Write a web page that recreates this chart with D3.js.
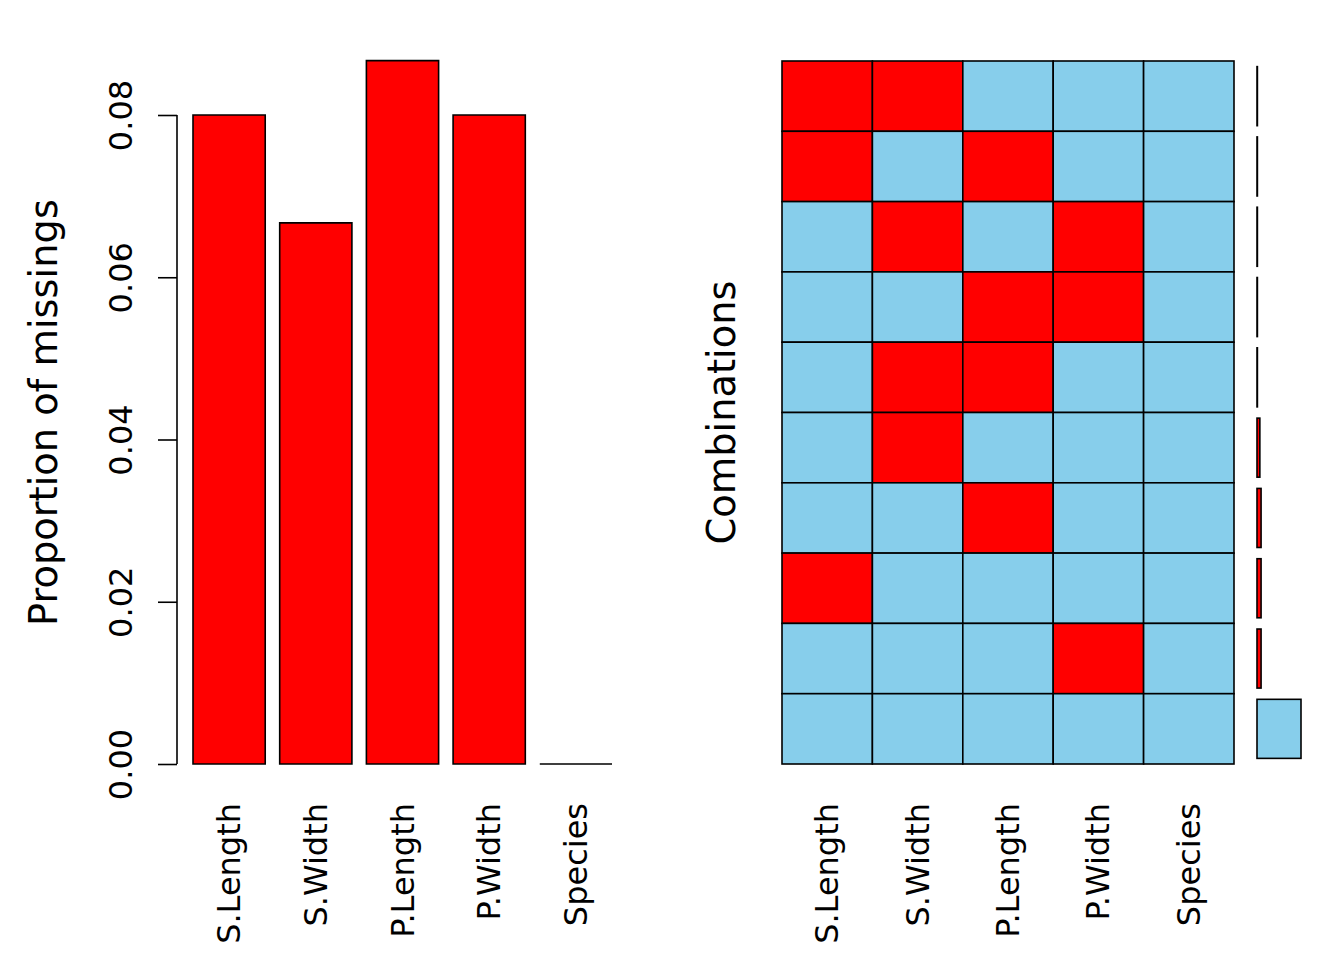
<!DOCTYPE html>
<html>
<head>
<meta charset="utf-8">
<script src="https://cdn.jsdelivr.net/npm/d3@7"></script>
<style>
  html, body { margin: 0; padding: 0; background: #fff; }
  svg text { font-family: "DejaVu Sans", sans-serif; font-size: 32px; fill: #000; }
  svg text.ylab { font-size: 38.4px; }
</style>
</head>
<body>
<svg id="chart" width="1344" height="960"></svg>
<script>
// ---- data ----
const variables = ["S.Length", "S.Width", "P.Length", "P.Width", "Species"];
const proportionMissing = [0.08, 0.0667, 0.0867, 0.08, 0];
const yTicks = [0, 0.02, 0.04, 0.06, 0.08];
const yTickLabels = ["0.00", "0.02", "0.04", "0.06", "0.08"];
// combination patterns (1 = missing) top to bottom, and their frequencies
const combinations = ["11000", "10100", "01010", "00110", "01100", "01000", "00100", "10000", "00010", "00000"];
const combinationCounts = [1, 1, 1, 1, 1, 7, 10, 10, 10, 108];

const RED = "#FF0000", BLUE = "#87CEEB";
const svg = d3.select("#chart");

// ---- left panel: proportion of missings ----
const xL = d3.scaleBand().domain(variables).range([193, 612]).paddingInner(0.167).paddingOuter(0);
const yL = d3.scaleLinear().domain([0, 0.08]).range([764, 115]);

const left = svg.append("g");
left.selectAll("path.bar").data(variables).enter().append("path")
  .attr("class", "bar")
  .attr("d", (v, i) => {
    const x0 = xL(v), w = xL.bandwidth(), y0 = yL(0), y1 = yL(proportionMissing[i]);
    return `M${x0},${y0}V${y1}H${x0 + w}V${y0}Z`;
  })
  .attr("fill", RED)
  .attr("stroke", "#000")
  .attr("stroke-width", 1.6);

const yAxis = d3.axisLeft(yL).tickValues(yTicks).tickFormat((d, i) => yTickLabels[i]).tickSize(19).tickPadding(0);
const ya = left.append("g").attr("transform", "translate(177,0)").call(yAxis);
ya.select(".domain").attr("d", `M0,${yL(0)}V${yL(0.08)}`).attr("stroke", "#000").attr("stroke-width", 1.6);
ya.selectAll(".tick line").attr("stroke", "#000").attr("stroke-width", 1.6);
ya.selectAll(".tick text")
  .attr("x", 0).attr("y", 0).attr("dy", null)
  .attr("text-anchor", "middle")
  .attr("transform", "translate(-45,0) rotate(-90)")
  .style("font-size", "32px").style("font-family", "DejaVu Sans").attr("fill", "#000");

left.selectAll("text.xl").data(variables).enter().append("text")
  .attr("class", "xl")
  .attr("text-anchor", "end")
  .attr("transform", v => `translate(${xL(v) + xL.bandwidth() / 2 + 11},803) rotate(-90)`)
  .text(v => v);

left.append("text")
  .attr("class", "ylab")
  .attr("text-anchor", "middle")
  .attr("transform", "translate(57,412.5) rotate(-90)")
  .text("Proportion of missings");

// ---- right panel: combinations ----
const xR = d3.scaleBand().domain(variables).range([782, 1234]);
const rowIdx = d3.range(combinations.length);
const yR = d3.scaleBand().domain(rowIdx).range([61, 764]);
const right = svg.append("g");

const cells = [];
combinations.forEach((pat, r) => {
  variables.forEach((v, c) => cells.push({ r, v, miss: pat[c] === "1" }));
});
right.selectAll("rect.cell").data(cells).enter().append("rect")
  .attr("class", "cell")
  .attr("x", d => xR(d.v))
  .attr("y", d => yR(d.r))
  .attr("width", xR.bandwidth())
  .attr("height", yR.bandwidth())
  .attr("fill", d => d.miss ? RED : BLUE)
  .attr("stroke", "#000")
  .attr("stroke-width", 1.6);

right.selectAll("text.xr").data(variables).enter().append("text")
  .attr("class", "xr")
  .attr("text-anchor", "end")
  .attr("transform", v => `translate(${xR(v) + xR.bandwidth() / 2 + 11},803) rotate(-90)`)
  .text(v => v);

right.append("text")
  .attr("class", "ylab")
  .attr("text-anchor", "middle")
  .attr("transform", "translate(735,412.5) rotate(-90)")
  .text("Combinations");

// frequency bars
const yF = d3.scaleBand().domain(rowIdx).range([61, 764]).paddingInner(0.16).paddingOuter(0.08);
const xF = d3.scaleLinear().domain([0, 108]).range([1257, 1301]);
right.selectAll("rect.freq").data(rowIdx).enter().append("rect")
  .attr("class", "freq")
  .attr("x", xF(0))
  .attr("y", r => yF(r))
  .attr("width", r => xF(combinationCounts[r]) - xF(0))
  .attr("height", yF.bandwidth())
  .attr("fill", r => combinations[r].includes("1") ? RED : BLUE)
  .attr("stroke", "#000")
  .attr("stroke-width", 1.6);
</script>
</body>
</html>
